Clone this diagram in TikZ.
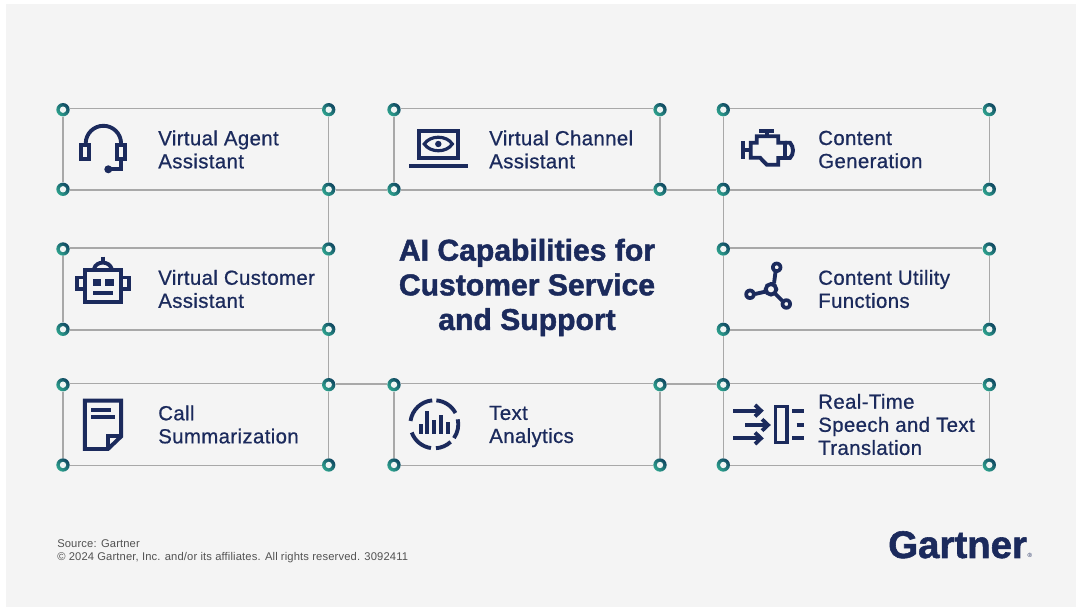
\documentclass[tikz,border=0pt]{standalone}
\usepackage{fontspec}
\setmainfont{Liberation Sans}
\newfontfamily\lblfont[FakeBold=0.7,LetterSpace=1.8]{Liberation Sans}
\newfontfamily\headfont[FakeBold=1.5]{Liberation Sans Bold}
\newfontfamily\footfont[LetterSpace=1.25]{Liberation Sans}
\usetikzlibrary{shadings}
\definecolor{navy}{HTML}{1B2A5C}
\definecolor{bgrey}{HTML}{F4F4F4}
\definecolor{edge}{HTML}{A8A8A8}
\definecolor{tealdark}{HTML}{0F4560}
\definecolor{tealgreen}{HTML}{2FA58F}
\definecolor{ringin}{HTML}{EFF5F4}
\tikzset{
  ring/.style={circle,minimum size=10pt,inner sep=0pt,
    left color=tealdark,right color=tealgreen,shading angle=-45,
    path picture={\fill[ringin] (path picture bounding box.center) circle (2.4pt);}},
  edgeline/.style={edge,line width=1.1pt},
  ico/.style={navy,line width=2.9pt,miter limit=10},
  icofill/.style={navy,fill=navy,draw=none},
  lbl/.style={anchor=west,inner sep=0pt,align=left,text=navy,
    font=\lblfont\fontsize{15.3pt}{17.3pt}\selectfont},
  title/.style={inner sep=0pt,align=center,text=navy,
    font=\headfont\fontsize{22.6pt}{26pt}\selectfont},
  foot/.style={anchor=base west,inner sep=0pt,text=black!68,
    font=\footfont\fontsize{8.4pt}{10pt}\selectfont},
}
% name, xl, xr, yt, yb (ring centres)
\newcommand{\capbox}[5]{%
  \node[ring] (#1tl) at (#2,#4) {};
  \node[ring] (#1tr) at (#3,#4) {};
  \node[ring] (#1bl) at (#2,#5) {};
  \node[ring] (#1br) at (#3,#5) {};
  \draw[edgeline] ([yshift=0.75pt]#1tl.east) -- ([yshift=0.75pt]#1tr.west);
  \draw[edgeline] ([yshift=-0.5pt]#1bl.east) -- ([yshift=-0.5pt]#1br.west);
  \draw[edgeline] (#1tl.south) -- (#1bl.north);
  \draw[edgeline] (#1tr.south) -- (#1br.north);
}
\begin{document}
\begin{tikzpicture}[x=0.75pt,y=-0.75pt]
\useasboundingbox (0,0) rectangle (1076,609);
\fill[bgrey] (6,4) rectangle (1076,607);

\capbox{a}{63}{328.7}{109.7}{189.3}
\capbox{b}{394}{660}{109.7}{189.3}
\capbox{c}{723.3}{989.3}{109.7}{189.3}
\capbox{d}{63}{328.7}{249}{329.3}
\capbox{f}{723.3}{989.3}{249}{329.3}
\capbox{g}{63}{328.7}{384.7}{465}
\capbox{h}{394}{660}{384.7}{465}
\capbox{i}{723.3}{989.3}{384.7}{465}

\draw[edgeline] ([yshift=-0.5pt]abr.east) -- ([yshift=-0.5pt]bbl.west);
\draw[edgeline] ([yshift=-0.5pt]bbr.east) -- ([yshift=-0.5pt]cbl.west);
\draw[edgeline] ([yshift=0.6pt]gtr.east) -- ([yshift=0.6pt]htl.west);
\draw[edgeline] ([yshift=0.6pt]htr.east) -- ([yshift=0.6pt]itl.west);
\draw[edgeline] (abr.south) -- (dtr.north);
\draw[edgeline] (dbr.south) -- (gtr.north);
\draw[edgeline] (cbl.south) -- (ftl.north);
\draw[edgeline] (fbl.south) -- (itl.north);

% labels
\node[lbl] (ta) at (158,149.5) {Virtual Agent\\Assistant};
\node[lbl] (tb) at (489,149.5) {Virtual Channel\\Assistant};
\node[lbl] (tc) at (818,149.5) {Content\\Generation};
\node[lbl] (td) at (158,289) {Virtual Customer\\Assistant};
\node[lbl] (tf) at (818,289) {Content Utility\\Functions};
\node[lbl] (tg) at (158,424.5) {Call\\Summarization};
\node[lbl] (th) at (489,426.5) {Text\\Analytics};
\node[lbl] (ti) at (818,424.5) {Real-Time\\Speech and Text\\Translation};
\node[title] (main) at (527,287.5) {AI Capabilities for\\Customer Service\\and Support};
\node[foot] (src) at (57,548) {Source: Gartner};
\node[foot] (copy) at (57,561) {© 2024 Gartner, Inc. and/or its affiliates. All rights reserved. 3092411};
\node[anchor=base west,inner sep=0pt,text=navy,font=\headfont\fontsize{28.8pt}{34pt}\selectfont] (logo) at (888,558) {Gartner};
\node[anchor=base west,inner sep=0pt,text=navy,font=\footfont\fontsize{4.5pt}{5pt}\selectfont] (reg) at (logo.base east) {®};

% headset
\begin{scope}[shift={(85.7,143.5)},y=0.75pt]
\draw[ico] (0,0) arc[start angle=180,end angle=0,radius=17.7];
\end{scope}
\draw[ico] (81.2,145.2) rectangle (88.8,159);
\draw[ico] (117.2,145.2) rectangle (124.8,159);
\draw[ico] (121,160) -- (121,169.3) -- (108.3,169.3);
\fill[icofill] (108.3,169.3) circle[radius=4];

% laptop
\draw[ico] (418.6,130.6) rectangle (458.1,158.1);
\fill[icofill] (408.7,164) rectangle (468,168.3);
\draw[navy,line width=2.4pt] (424.3,144) .. controls (430,135) and (446.7,135) .. (452.3,144) .. controls (446.7,153) and (430,153) .. (424.3,144) -- cycle;
\fill[icofill] (438.3,144) circle[radius=3.2];

% engine
\draw[ico] (743.3,141) -- (743.3,159);
\draw[ico] (744,150.3) -- (751,150.3);
\draw[ico] (750.7,142.7) -- (756.7,142.7) -- (756.7,136.3) -- (778.3,136.3) -- (778.3,142.7) -- (785,142.7) -- (785,158) -- (778.3,158) -- (778.3,164.7) -- (766.7,164.7) -- (760,157.7) -- (750.7,157.7) -- cycle;
\draw[ico] (759,131) -- (773.5,131);
\draw[ico] (766.7,131) -- (766.7,136.3);
\draw[ico] (785,142.7) -- (790,142.7) .. controls (794,147) and (794,154) .. (790,158) -- (785,158);

% robot
\draw[ico] (85,270) rectangle (121,301.7);
\draw[ico] (85,277.5) -- (77.4,277.5) -- (77.4,289.3) -- (85,289.3);
\draw[ico] (121,277.5) -- (129,277.5) -- (129,289.3) -- (121,289.3);
\draw[ico] (94,269) .. controls (96,260.5) and (109.5,260.5) .. (111.7,269);
\draw[ico] (102.7,256.7) -- (102.7,262);
\fill[icofill] (92.7,279.3) rectangle (100.7,285.7);
\fill[icofill] (105.3,279.3) rectangle (114,285.7);
\fill[icofill] (92.7,291) rectangle (113.3,295);

% share
\draw[ico] (771,289.3) circle[radius=5.3];
\draw[ico] (774,283.5) -- (775.5,272);
\draw[ico] (766,291.5) -- (755,294);
\draw[ico] (775,293.5) -- (782,300.5);
\fill[icofill,even odd rule] (776.7,267.3) circle[radius=5.7] circle[radius=2];
\fill[icofill,even odd rule] (750,294.3) circle[radius=5.7] circle[radius=2];
\fill[icofill,even odd rule] (786.3,304) circle[radius=5.7] circle[radius=2];

% document
\draw[ico] (84.9,400.6) -- (121.1,400.6) -- (121.1,436.5) -- (108,449) -- (84.9,449) -- cycle;
\draw[ico] (121.1,436) -- (108,436) -- (108,449);
\fill[icofill] (91,408.5) rectangle (111,412.5);
\fill[icofill] (91,415) rectangle (115,419);

% analytics
\begin{scope}[shift={(434.3,424.3)},y=0.75pt]
\draw[ico] (95:24) arc[start angle=95,end angle=172,radius=24];
\draw[ico] (85:24) arc[start angle=85,end angle=28,radius=24];
\draw[ico] (12:24) arc[start angle=12,end angle=-35,radius=24];
\draw[ico] (-47:24) arc[start angle=-47,end angle=-86,radius=24];
\draw[ico] (-98:24) arc[start angle=-98,end angle=-160,radius=24];
\end{scope}
\draw[ico] (420.7,434) -- (420.7,424);
\draw[ico] (427.3,434) -- (427.3,410.7);
\draw[ico] (434,434) -- (434,420);
\draw[ico] (441,434) -- (441,415);
\draw[ico] (448.3,434) -- (448.3,421.7);

% translation
\draw[ico] (733.3,410.7) -- (760,410.7);
\draw[ico] (745,425) -- (767.5,425);
\draw[ico] (733.3,438.3) -- (760,438.3);
\draw[ico] (755,405) -- (761,410.7) -- (755,416.4);
\draw[ico] (762,419.3) -- (768,425) -- (762,430.7);
\draw[ico] (755,432.6) -- (761,438.3) -- (755,444);
\draw[ico] (775.5,406.5) rectangle (786.8,442.5);
\draw[ico] (792.3,410.7) -- (804,410.7);
\draw[ico] (796.7,425) -- (804,425);
\draw[ico] (792.3,438.3) -- (804,438.3);
\end{tikzpicture}
\end{document}
